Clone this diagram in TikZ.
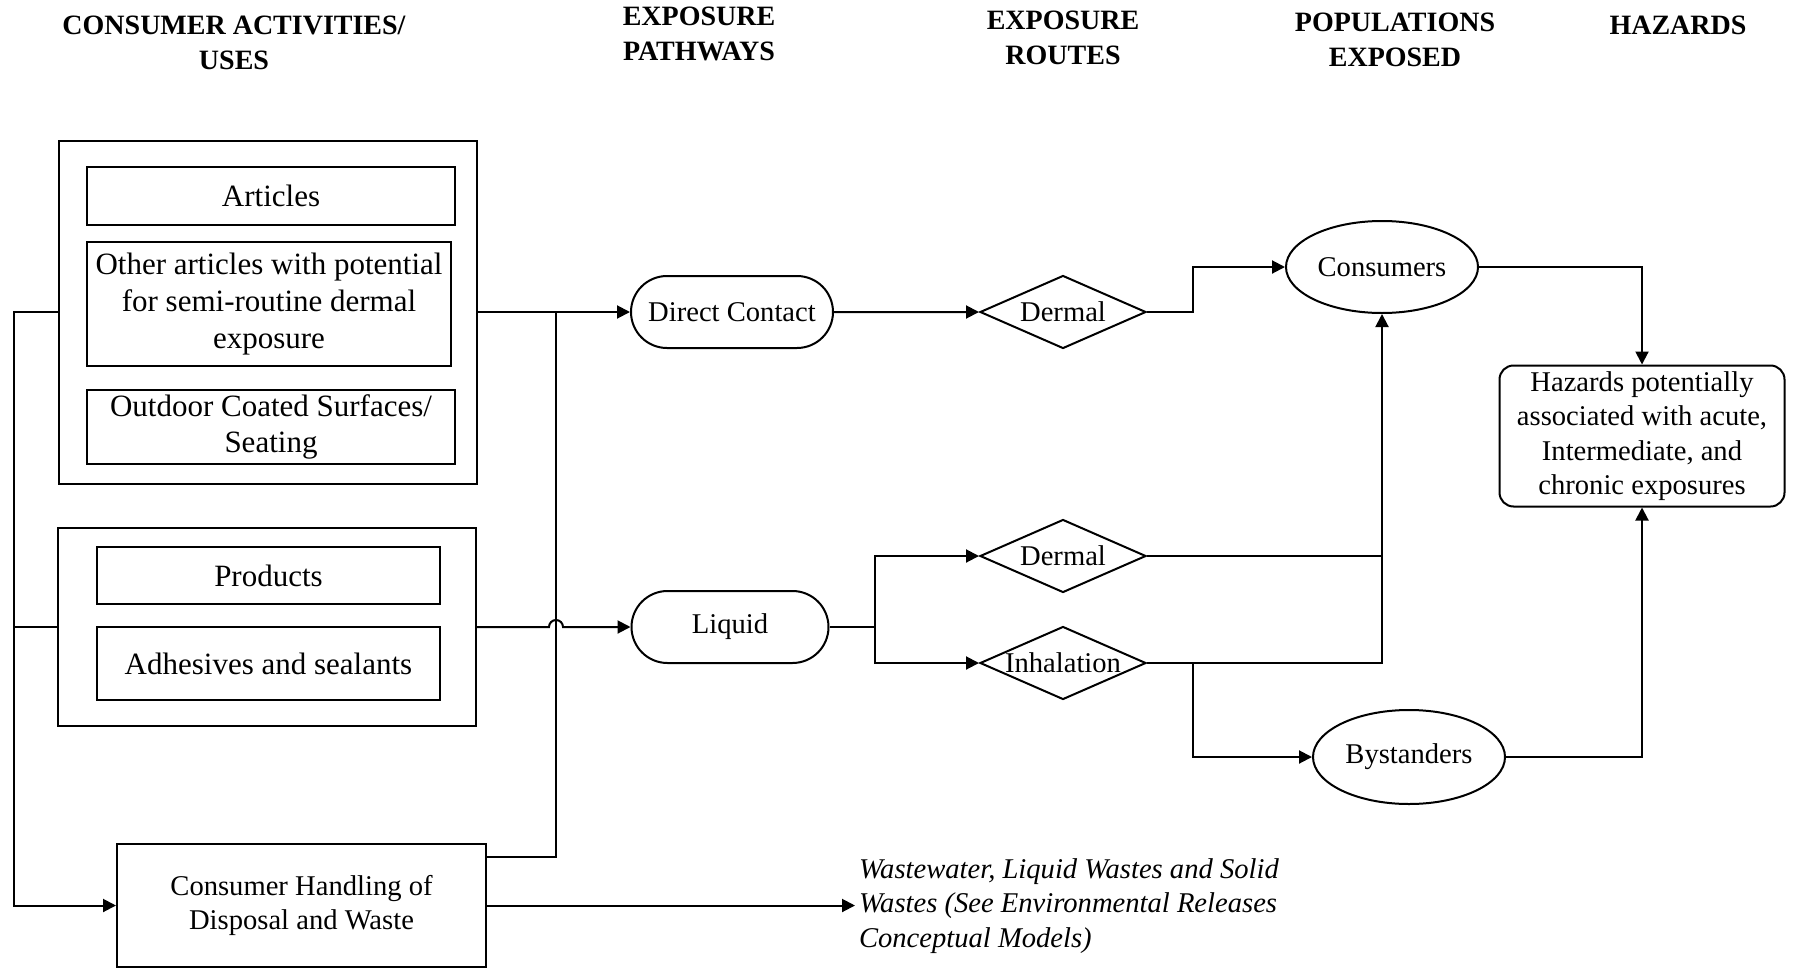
\documentclass[tikz,border=0pt]{standalone}
\usepackage{fontspec}
\setmainfont{Liberation Serif}
\usetikzlibrary{arrows.meta,shapes.geometric,shapes.misc}
\begin{document}
\begin{tikzpicture}[x=0.5pt,y=-0.5pt,line width=1pt,
  every node/.style={font=\fontsize{14.3}{17.2}\selectfont,align=center,inner sep=0pt},
  head/.style={font=\bfseries\fontsize{14}{17.7}\selectfont},
  grp/.style={draw,minimum width=209pt},
  item/.style={draw,font=\fontsize{15.5}{18.3}\selectfont},
  path/.style={draw,rounded rectangle,minimum height=36pt},
  route/.style={draw,diamond,aspect=2.3,minimum width=83pt,minimum height=36.5pt},
  pop/.style={draw,ellipse,minimum width=96pt,minimum height=46pt},
  arr/.style={-{Triangle[length=6.5pt,width=6.5pt]}}]
\useasboundingbox (0,0) rectangle (1793,969);
% column headings
\node[head] (h1) at (234,43) {CONSUMER ACTIVITIES/\\USES};
\node[head] (h2) at (699,34) {EXPOSURE\\PATHWAYS};
\node[head] (h3) at (1063,38) {EXPOSURE\\ROUTES};
\node[head] (h4) at (1395,40) {POPULATIONS\\EXPOSED};
\node[head] (h5) at (1678,25) {HAZARDS};
% uses
\node[grp,minimum height=171.5pt] (grpa) at (268,312) {};
\node[item,minimum width=184pt,minimum height=29pt] (art) at (271,196) {Articles};
\node[item,minimum width=182pt,minimum height=62pt] (oth) at (269,304) {Other articles with potential\\for semi-routine dermal\\exposure};
\node[item,minimum width=184pt,minimum height=37pt] (out) at (271,427) {Outdoor Coated Surfaces/\\Seating};
\node[grp,minimum height=99pt] (grpb) at (267,627) {};
\node[item,minimum width=171.5pt,minimum height=28.5pt] (prod) at (268.5,575.5) {Products};
\node[item,minimum width=171.5pt,minimum height=36.5pt] (adh) at (268.5,663.5) {Adhesives and sealants};
\node[draw,minimum width=184.5pt,minimum height=61.5pt] (hand) at (301.5,905.5) {Consumer Handling of\\Disposal and Waste};
\node[anchor=west,align=left,font=\itshape\fontsize{14.3}{17.2}\selectfont] (waste) at (858,906) {Wastewater, Liquid Wastes and Solid\\Wastes (See Environmental Releases\\Conceptual Models)};
% pathways, routes, populations
\node[path,minimum width=101pt] (dir) at (732,312) {Direct Contact};
\node[path,minimum width=98.5pt] (liq) at (730,627) {Liquid};
\node[route] (derma) at (1063,312) {Dermal};
\node[route] (dermb) at (1063,556) {Dermal};
\node[route] (inh) at (1063,663) {Inhalation};
\node[pop] (cons) at (1382,267) {Consumers};
\node[pop,minimum height=47pt] (bys) at (1409,757) {Bystanders};
\node[draw,rounded corners=7pt,minimum width=142.5pt,minimum height=70.5pt] (haz) at (1642,436) {Hazards potentially\\associated with acute,\\Intermediate, and\\chronic exposures};
\coordinate (trunk) at (14,0);
\coordinate (riser) at (556,0);
\coordinate (split) at (875,0);
\coordinate (jog) at (1193,0);
% connectors
\draw[arr] (grpa.west) -- (grpa.west -| trunk) |- (hand.west);
\draw (grpb.west) -- (grpb.west -| trunk);
\draw[arr] (grpa.east) -- (dir.west);
\draw ([yshift=-7pt]hand.north east) -- ([yshift=-7pt]hand.north east -| riser) -- (riser |- dir.west);
\draw[arr] (grpb.east) -- ([xshift=-3.5pt]riser |- grpb.east) arc[start angle=180,end angle=0,radius=3.5pt] -- (liq.west);
\draw[arr] (hand.east) -- ([xshift=-1.5pt]hand.east -| waste.west);
\draw[arr] (dir) -- (derma);
\draw[arr] (derma.east) -- (jog |- derma.east) |- (cons.west);
\draw[arr] (liq.east) -- (split |- liq.east) |- (dermb.west);
\draw[arr] (split |- liq.east) |- (inh.west);
\draw (dermb.east) -- (cons.south |- dermb.east);
\draw[arr] (inh.east) -| (cons.south);
\draw[arr] (jog |- inh.east) |- (bys.west);
\draw[arr] (cons.east) -| (haz.north);
\draw[arr] (bys.east) -| (haz.south);
\end{tikzpicture}
\end{document}
